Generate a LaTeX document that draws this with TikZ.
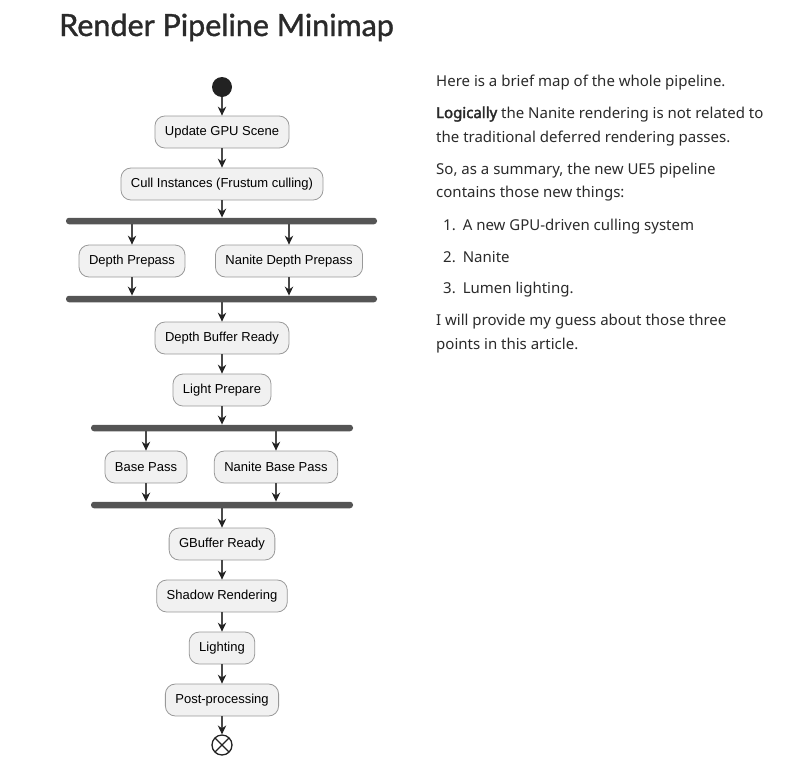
\documentclass[tikz,border=0pt]{standalone}
\usepackage{fontspec}
\setmainfont{Noto Sans}[BoldFont = {Noto Sans}, BoldFeatures = {FakeBold = 2.5}]
\newfontfamily\boxfont{Liberation Sans}
\newfontfamily\titlefont{Lato}[FakeBold = 1.2]
\usetikzlibrary{positioning, arrows.meta}
\definecolor{actfill}{HTML}{F1F1F1}
\definecolor{actline}{HTML}{999999}
\definecolor{flowline}{HTML}{4A4A4A}
\definecolor{tipcol}{HTML}{222222}
\definecolor{barfill}{HTML}{555555}
\definecolor{textgray}{HTML}{2A2A2A}

\begin{document}
\begin{tikzpicture}[
    x = 1pt, y = -1pt,
    > = {Stealth[length = 9pt, width = 8.5pt, inset = 3pt, color = tipcol]},
    act/.style   = {rectangle, rounded corners = 10pt, draw = actline, fill = actfill,
                    line width = .8pt, minimum height = 32pt, inner xsep = 10pt,
                    font = \boxfont\fontsize{13}{15}\selectfont},
    bar/.style   = {rectangle, rounded corners = 3pt, fill = barfill, inner sep = 0pt,
                    minimum height = 6.5pt},
    flow/.style  = {->, draw = flowline, line width = 1.1pt},
    para/.style  = {anchor = base west, inner sep = 0pt, text = textgray,
                    font = \fontsize{15}{18}\selectfont}
]
\useasboundingbox (0,0) rectangle (792,774);

% Title
\node[anchor = base west, inner sep = 0pt, text = textgray,
      font = \titlefont\fontsize{30.5}{36}\selectfont] (title) at (59,36) {Render Pipeline Minimap};

% Activities
\node[circle, fill = tipcol, minimum size = 20pt, inner sep = 0pt] (start) at (222,87) {};
\node[act] (updScene)  at (222,132) {Update GPU Scene};
\node[act] (cullInst)  at (222,184) {Cull Instances (Frustum culling)};
\node[bar, minimum width = 311pt] (fork1) at (221.5,221) {};
\node[act] (depthPre)  at (132,261) {Depth Prepass};
\node[act] (naniteDep) at (289,261) {Nanite Depth Prepass};
\node[bar, minimum width = 311pt] (join1) at (221.5,299) {};
\node[act] (depthBuf)  at (222,338) {Depth Buffer Ready};
\node[act] (lightPre)  at (222,390) {Light Prepare};
\node[bar, minimum width = 262pt] (fork2) at (222,428) {};
\node[act] (basePass)  at (146,467) {Base Pass};
\node[act] (naniteBase) at (276,467) {Nanite Base Pass};
\node[bar, minimum width = 262pt] (join2) at (222,505) {};
\node[act] (gbufReady) at (222,544) {GBuffer Ready};
\node[act] (shadowRen) at (222,596) {Shadow Rendering};
\node[act] (lighting)  at (222,648) {Lighting};
\node[act] (postProc)  at (222,700) {Post-processing};
\node[circle, draw = tipcol, line width = 1.3pt, minimum size = 20pt, inner sep = 0pt,
      path picture = {\draw[tipcol, line width = 1.3pt]
          (path picture bounding box.north west) -- (path picture bounding box.south east)
          (path picture bounding box.north east) -- (path picture bounding box.south west);}]
      (stop) at (222,745) {};

% Flow
\draw[flow] (start)    -- (updScene);
\draw[flow] (updScene) -- (cullInst);
\draw[flow] (cullInst) -- (cullInst.south |- fork1.north);
\draw[flow] (depthPre.north |- fork1.south)  -- (depthPre);
\draw[flow] (naniteDep.north |- fork1.south) -- (naniteDep);
\draw[flow] (depthPre)  -- (depthPre.south |- join1.north);
\draw[flow] (naniteDep) -- (naniteDep.south |- join1.north);
\draw[flow] (depthBuf.north |- join1.south) -- (depthBuf);
\draw[flow] (depthBuf) -- (lightPre);
\draw[flow] (lightPre) -- (lightPre.south |- fork2.north);
\draw[flow] (basePass.north |- fork2.south)   -- (basePass);
\draw[flow] (naniteBase.north |- fork2.south) -- (naniteBase);
\draw[flow] (basePass)   -- (basePass.south |- join2.north);
\draw[flow] (naniteBase) -- (naniteBase.south |- join2.north);
\draw[flow] (gbufReady.north |- join2.south) -- (gbufReady);
\draw[flow] (gbufReady) -- (shadowRen);
\draw[flow] (shadowRen) -- (lighting);
\draw[flow] (lighting)  -- (postProc);
\draw[flow] (postProc)  -- (stop);

% Text
\node[para] (line1)  at (436,86)  {Here is a brief map of the whole pipeline.};
\node[para] (line2)  at (436,118) {\textbf{Logically} the Nanite rendering is not related to};
\node[para] (line3)  at (436,142) {the traditional deferred rendering passes.};
\node[para] (line4)  at (436,174) {So, as a summary, the new UE5 pipeline};
\node[para] (line5)  at (436,197) {contains those new things:};
\node[para] (item1)  at (443,230) {1.\hspace{7pt}A new GPU-driven culling system};
\node[para] (item2)  at (443,262) {2.\hspace{7pt}Nanite};
\node[para] (item3)  at (443,293) {3.\hspace{7pt}Lumen lighting.};
\node[para] (line9)  at (436,325) {I will provide my guess about those three};
\node[para] (line10) at (436,349) {points in this article.};

\end{tikzpicture}
\end{document}
